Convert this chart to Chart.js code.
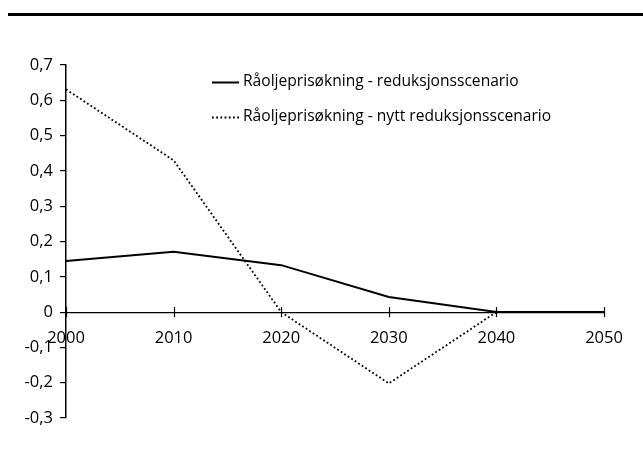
<!DOCTYPE html>
<html lang="no">
<head>
  <meta charset="UTF-8" />
  <title>Råoljeprisøkning</title>
  <script src="https://cdn.jsdelivr.net/npm/chart.js"></script>
  <style>
    html, body {
      margin: 0;
      padding: 0;
      background: #fff;
    }
    .wrap {
      position: relative;
      width: 643px;
      height: 454px;
    }
    .rule {
      position: absolute;
      left: 8px;
      right: 0;
      top: 13px;
      height: 3px;
      background: #000;
    }
    canvas {
      position: absolute;
      left: 0;
      top: 0;
    }
  </style>
</head>
<body>
  <div class="wrap">
    <div class="rule"></div>
    <canvas id="chart" width="643" height="454"></canvas>
  </div>

  <script>
    const years = [2000, 2010, 2020, 2030, 2040, 2050];
    const reduksjon = [0.145, 0.171, 0.133, 0.043, 0, 0];
    const nyttReduksjon = [0.631, 0.43, 0, -0.202, 0, 0];
    const seriesNames = [
      "Råoljeprisøkning - reduksjonsscenario",
      "Råoljeprisøkning - nytt reduksjonsscenario"
    ];

    const FONT = "'Open Sans', 'DejaVu Sans', sans-serif";

    function toPoints(values) {
      return years.map((y, i) => ({ x: y, y: values[i] }));
    }

    // x ticks cross the zero line on both sides
    const crossTicks = {
      id: "crossTicks",
      afterDraw(chart) {
        const { ctx, scales: { x, y } } = chart;
        const y0 = y.getPixelForValue(0);
        ctx.save();
        ctx.strokeStyle = "#000";
        ctx.lineWidth = 1.2;
        x.ticks.forEach(t => {
          const px = Math.round(x.getPixelForValue(t.value)) + 0.5;
          ctx.beginPath();
          ctx.moveTo(px, y0 - 5);
          ctx.lineTo(px, y0 + 5);
          ctx.stroke();
        });
        ctx.restore();
      }
    };

    // legend sitting inside the plot, upper middle
    const insideLegend = {
      id: "insideLegend",
      afterDraw(chart) {
        const ctx = chart.ctx;
        const rows = [82, 117];
        ctx.save();
        ctx.font = "15.6px " + FONT;
        ctx.fillStyle = "#000";
        ctx.textBaseline = "middle";
        chart.data.datasets.forEach((ds, i) => {
          const ly = rows[i] + 0.5;
          ctx.strokeStyle = ds.borderColor;
          ctx.lineWidth = ds.borderWidth;
          ctx.setLineDash(ds.borderDash || []);
          ctx.beginPath();
          ctx.moveTo(212, ly);
          ctx.lineTo(239, ly);
          ctx.stroke();
          ctx.setLineDash([]);
          ctx.fillText(ds.label, 243, rows[i]);
        });
        ctx.restore();
      }
    };

    new Chart(document.getElementById("chart"), {
      type: "line",
      data: {
        datasets: [
          {
            label: seriesNames[0],
            data: toPoints(reduksjon),
            borderColor: "#000",
            borderWidth: 2,
            pointRadius: 0,
            tension: 0
          },
          {
            label: seriesNames[1],
            data: toPoints(nyttReduksjon),
            borderColor: "#000",
            borderWidth: 1.8,
            borderDash: [1.8, 2.4],
            pointRadius: 0,
            tension: 0
          }
        ]
      },
      options: {
        responsive: false,
        animation: false,
        layout: {
          padding: { top: 65, right: 39, bottom: 36, left: 0 }
        },
        plugins: {
          legend: { display: false },
          tooltip: { enabled: false }
        },
        scales: {
          x: {
            type: "linear",
            position: { y: 0 },
            min: 2000,
            max: 2050,
            grid: { display: false },
            border: { display: true, color: "#000", width: 1.2 },
            ticks: {
              stepSize: 10,
              padding: 8,
              color: "#000",
              font: { family: FONT, size: 16.5 },
              callback: v => String(v)
            },
            afterFit(scale) { scale.height = 0; }
          },
          y: {
            position: "left",
            min: -0.3,
            max: 0.7,
            grid: {
              drawOnChartArea: false,
              drawTicks: true,
              tickLength: 6,
              color: "#000",
              lineWidth: 1.2
            },
            border: { display: true, color: "#000", width: 1.5 },
            ticks: {
              stepSize: 0.1,
              padding: 7,
              color: "#000",
              font: { family: FONT, size: 16.5 },
              callback: v => {
                const r = Math.round(v * 10) / 10;
                return r === 0 ? "0" : r.toFixed(1).replace(".", ",");
              }
            },
            afterFit(scale) { scale.width = 66; }
          }
        }
      },
      plugins: [crossTicks, insideLegend]
    });
  </script>
</body>
</html>
